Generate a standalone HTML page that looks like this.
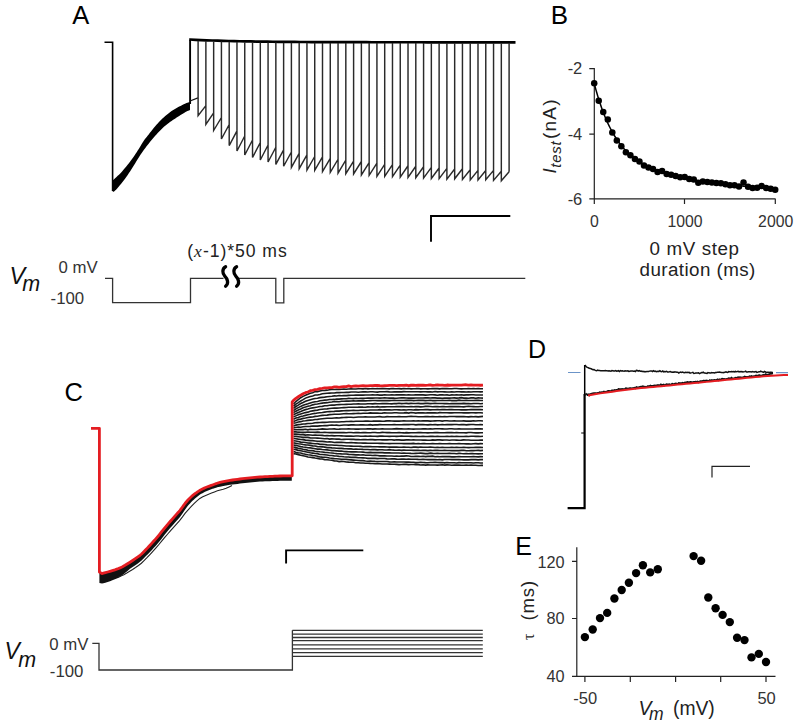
<!DOCTYPE html>
<html><head><meta charset="utf-8"><style>
html,body{margin:0;padding:0;background:#fff;}
svg{display:block;font-family:"Liberation Sans", sans-serif;}
</style></head><body>
<svg width="800" height="726" viewBox="0 0 800 726">
<text x="72.3" y="24" font-size="25.5" fill="#000">A</text>
<path d="M104.5,42.2 H112.6 V191" fill="none" stroke="#000" stroke-width="1.6"/>
<polygon points="112.70,180.50 113.17,180.07 113.81,179.47 114.58,178.77 115.40,178.00 116.23,177.23 117.00,176.50 117.69,175.86 118.34,175.26 119.00,174.66 119.70,173.99 120.49,173.19 121.40,172.20 122.47,170.99 123.67,169.61 124.95,168.10 126.28,166.50 127.61,164.85 128.90,163.20 130.17,161.52 131.46,159.77 132.74,157.97 134.02,156.15 135.28,154.32 136.50,152.50 137.71,150.62 138.92,148.66 140.11,146.69 141.25,144.79 142.32,143.03 143.30,141.50 144.12,140.29 144.80,139.35 145.40,138.56 146.01,137.79 146.72,136.91 147.60,135.80 148.68,134.41 149.89,132.83 151.20,131.14 152.55,129.42 153.90,127.75 155.20,126.20 156.45,124.77 157.70,123.38 158.95,122.04 160.20,120.75 161.45,119.50 162.70,118.30 163.96,117.14 165.23,116.02 166.49,114.95 167.76,113.92 169.03,112.94 170.30,112.00 171.57,111.11 172.83,110.28 174.10,109.49 175.37,108.74 176.63,108.01 177.90,107.30 179.20,106.59 180.55,105.88 181.89,105.20 183.20,104.56 184.41,103.99 185.50,103.50 186.48,103.10 187.40,102.77 188.22,102.51 188.95,102.30 189.55,102.14 190.00,102.00 190.00,110.00 189.55,110.19 188.95,110.41 188.22,110.70 187.40,111.05 186.48,111.48 185.50,112.00 184.41,112.64 183.20,113.39 181.89,114.21 180.55,115.08 179.20,115.96 177.90,116.80 176.63,117.61 175.37,118.41 174.10,119.21 172.83,120.04 171.57,120.89 170.30,121.80 169.03,122.75 167.76,123.72 166.49,124.72 165.23,125.77 163.96,126.86 162.70,128.00 161.45,129.19 160.20,130.43 158.95,131.71 157.70,133.04 156.45,134.40 155.20,135.80 153.94,137.24 152.66,138.73 151.39,140.26 150.11,141.82 148.85,143.40 147.60,145.00 146.37,146.59 145.16,148.19 143.95,149.81 142.74,151.47 141.53,153.19 140.30,155.00 139.05,156.93 137.79,158.97 136.51,161.07 135.24,163.20 133.96,165.29 132.70,167.30 131.45,169.25 130.20,171.18 128.95,173.08 127.70,174.93 126.45,176.74 125.20,178.50 123.89,180.25 122.53,182.01 121.16,183.73 119.84,185.34 118.64,186.78 117.60,188.00 116.74,188.97 116.02,189.74 115.41,190.34 114.88,190.81 114.42,191.19 114.00,191.50 113.64,191.70 113.35,191.76 113.12,191.72 112.95,191.63 112.81,191.54 112.70,191.50" fill="#000"/>
<path d="M190.1,104 V40" fill="none" stroke="#000" stroke-width="1.9"/>
<path d="M189.2,39.5 L190.0,39.50 L195.5,39.79 L201.0,40.05 L206.6,40.29 L212.1,40.50 L217.6,40.69 L223.1,40.86 L228.6,41.01 L234.1,41.14 L239.7,41.26 L245.2,41.37 L250.7,41.47 L256.2,41.56 L261.7,41.63 L267.2,41.70 L272.8,41.76 L278.3,41.82 L283.8,41.87 L289.3,41.92 L294.8,41.96 L300.3,41.99 L305.9,42.02 L311.4,42.05 L316.9,42.08 L322.4,42.10 L327.9,42.12 L333.4,42.14 L339.0,42.16 L344.5,42.17 L350.0,42.19 L355.5,42.20 L361.0,42.21 L366.5,42.22 L372.1,42.23 L377.6,42.23 L383.1,42.24 L388.6,42.25 L394.1,42.25 L399.6,42.26 L405.2,42.26 L410.7,42.27 L416.2,42.27 L421.7,42.27 L427.2,42.28 L432.7,42.28 L438.3,42.28 L443.8,42.28 L449.3,42.28 L454.8,42.29 L460.3,42.29 L465.8,42.29 L471.4,42.29 L476.9,42.29 L482.4,42.29 L487.9,42.29 L493.4,42.29 L498.9,42.29 L504.5,42.29 L510.0,42.30 L515.5,42.30" fill="none" stroke="#000" stroke-width="2.7"/>
<path d="M190,101 L198,97.8" fill="none" stroke="#111" stroke-width="1.3"/>
<path d="M198.10,40.72 V115.60 L205.88,105.60 M205.88,41.06 V124.40 L213.65,112.90 M213.65,41.36 V130.50 L221.43,117.50 M221.43,41.61 V139.00 L229.20,124.50 M229.20,41.82 V145.60 L236.97,130.85 M236.97,42.01 V151.00 L244.75,136.00 M244.75,42.16 V155.00 L252.53,140.00 M252.53,42.30 V157.50 L260.30,142.50 M260.30,42.41 V160.00 L268.07,145.00 M268.07,42.51 V162.00 L275.85,147.25 M275.85,42.60 V164.40 L283.62,149.90 M283.62,42.67 V166.25 L291.40,152.00 M291.40,42.73 V167.37 L299.18,153.37 M299.18,42.78 V168.64 L306.95,154.83 M306.95,42.83 V170.13 L314.73,156.51 M314.73,42.87 V170.28 L322.50,156.84 M322.50,42.90 V171.70 L330.27,158.45 M330.27,42.93 V172.31 L338.05,159.25 M338.05,42.96 V173.05 L345.82,160.17 M345.82,42.98 V173.74 L353.60,161.05 M353.60,42.99 V174.00 L361.38,161.50 M361.38,43.01 V174.88 L369.15,162.58 M369.15,43.02 V175.27 L376.93,163.17 M376.93,43.03 V176.36 L384.70,164.46 M384.70,43.04 V176.37 L392.48,164.67 M392.48,43.05 V176.68 L400.25,165.18 M400.25,43.06 V177.07 L408.02,165.77 M408.02,43.06 V177.36 L415.80,166.26 M415.80,43.07 V177.63 L423.58,166.73 M423.58,43.07 V178.07 L431.35,167.37 M431.35,43.08 V178.54 L439.12,168.04 M439.12,43.08 V178.69 L446.90,168.36 M446.90,43.08 V179.19 L454.67,169.02 M454.67,43.09 V178.81 L462.45,168.81 M462.45,43.09 V179.52 L470.23,169.69 M470.23,43.09 V180.04 L478.00,170.37 M478.00,43.09 V180.08 L485.77,170.58 M485.77,43.09 V179.72 L493.55,170.39 M493.55,43.09 V180.36 L501.33,171.19 M501.33,43.09 V180.69 L509.10,171.69 M509.10,43.10 V171.69" fill="none" stroke="#2a2a2a" stroke-width="1.45" stroke-linejoin="miter"/>
<path d="M431,241.7 V216 H510.3" fill="none" stroke="#000" stroke-width="1.9"/>
<text x="9.6" y="283.8" font-size="23.5" font-style="italic" fill="#111">V</text>
<text x="22.3" y="291.3" font-size="21.5" font-style="italic" fill="#111">m</text>
<text x="58.6" y="273.3" font-size="16.8" fill="#333">0 mV</text>
<text x="50.6" y="304.3" font-size="16.8" fill="#333">-100</text>
<path d="M105,278.3 H112.6 V302.6 H190.5 V278.3 H223.5 M239,278.3 H275.8 V302.8 H283.8 V278.3 H525.3" fill="none" stroke="#333" stroke-width="1.3"/>
<path d="M225.6,266.8 C222.0,268.6 222.2,273.5 224.8,276.2 C227.4,278.8 229.2,283.4 225.6,286.2" fill="none" stroke="#000" stroke-width="3.3" stroke-linecap="round"/>
<path d="M236.6,266.8 C233.0,268.6 233.2,273.5 235.8,276.2 C238.4,278.8 240.2,283.4 236.6,286.2" fill="none" stroke="#000" stroke-width="3.3" stroke-linecap="round"/>
<text x="187.3" y="257.2" font-size="17.6" letter-spacing="0.95" fill="#222">(<tspan font-family="Liberation Serif" font-style="italic">x</tspan>-1)*50 ms</text>
<text x="550.8" y="24" font-size="26" fill="#000">B</text>
<path d="M589.3,68.6 H594.3 M589.3,134.2 H594.3 M589.3,198.8 H594.3 M594.3,68 V198.8 H775.5 M594.3,198.8 V204 M684.5,198.8 V204 M775.3,198.8 V204" fill="none" stroke="#222" stroke-width="1.2"/>
<path d="M594.20,83.30 L595.11,86.76 L596.02,90.08 L596.93,93.28 L597.84,96.35 L598.75,99.30 L599.66,102.13 L600.57,104.86 L601.48,107.47 L602.39,109.99 L603.30,112.42 L604.21,114.75 L605.11,116.99 L606.02,119.14 L606.93,121.22 L607.84,123.21 L608.75,125.14 L609.66,126.99 L610.57,128.77 L611.48,130.48 L612.39,132.14 L613.30,133.73 L614.21,135.26 L615.12,136.74 L616.03,138.16 L616.94,139.54 L617.85,140.86 L618.76,142.14 L619.67,143.37 L620.58,144.56 L621.49,145.71 L622.40,146.81 L623.31,147.88 L624.22,148.91 L625.12,149.91 L626.03,150.87 L626.94,151.80 L627.85,152.70 L628.76,153.57 L629.67,154.42 L630.58,155.23 L631.49,156.02 L632.40,156.78 L633.31,157.52 L634.22,158.23 L635.13,158.92 L636.04,159.59 L636.95,160.24 L637.86,160.87 L638.77,161.48 L639.68,162.07 L640.59,162.65 L641.50,163.21 L642.41,163.75 L643.32,164.27 L644.23,164.78 L645.13,165.28 L646.04,165.76 L646.95,166.23 L647.86,166.68 L648.77,167.13 L649.68,167.56 L650.59,167.98 L651.50,168.39 L652.41,168.78 L653.32,169.17 L654.23,169.55 L655.14,169.92 L656.05,170.28 L656.96,170.63 L657.87,170.97 L658.78,171.30 L659.69,171.63 L660.60,171.94 L661.51,172.25 L662.42,172.56 L663.33,172.85 L664.24,173.14 L665.14,173.43 L666.05,173.70 L666.96,173.98 L667.87,174.24 L668.78,174.50 L669.69,174.75 L670.60,175.00 L671.51,175.25 L672.42,175.49 L673.33,175.72 L674.24,175.95 L675.15,176.18 L676.06,176.40 L676.97,176.62 L677.88,176.83 L678.79,177.04 L679.70,177.24 L680.61,177.44 L681.52,177.64 L682.43,177.84 L683.34,178.03 L684.25,178.22 L685.15,178.40 L686.06,178.58 L686.97,178.76 L687.88,178.94 L688.79,179.11 L689.70,179.28 L690.61,179.45 L691.52,179.62 L692.43,179.78 L693.34,179.94 L694.25,180.10 L695.16,180.25 L696.07,180.41 L696.98,180.56 L697.89,180.71 L698.80,180.85 L699.71,181.00 L700.62,181.14 L701.53,181.28 L702.44,181.42 L703.35,181.56 L704.26,181.69 L705.16,181.82 L706.07,181.96 L706.98,182.09 L707.89,182.21 L708.80,182.34 L709.71,182.47 L710.62,182.59 L711.53,182.71 L712.44,182.83 L713.35,182.95 L714.26,183.07 L715.17,183.18 L716.08,183.30 L716.99,183.41 L717.90,183.53 L718.81,183.64 L719.72,183.75 L720.63,183.85 L721.54,183.96 L722.45,184.07 L723.36,184.17 L724.27,184.27 L725.17,184.38 L726.08,184.48 L726.99,184.58 L727.90,184.68 L728.81,184.77 L729.72,184.87 L730.63,184.97 L731.54,185.06 L732.45,185.16 L733.36,185.25 L734.27,185.34 L735.18,185.43 L736.09,185.52 L737.00,185.61 L737.91,185.70 L738.82,185.78 L739.73,185.87 L740.64,185.96 L741.55,186.04 L742.46,186.12 L743.37,186.21 L744.28,186.29 L745.18,186.37 L746.09,186.45 L747.00,186.53 L747.91,186.61 L748.82,186.69 L749.73,186.76 L750.64,186.84 L751.55,186.91 L752.46,186.99 L753.37,187.06 L754.28,187.14 L755.19,187.21 L756.10,187.28 L757.01,187.35 L757.92,187.42 L758.83,187.49 L759.74,187.56 L760.65,187.63 L761.56,187.70 L762.47,187.77 L763.38,187.83 L764.29,187.90 L765.19,187.96 L766.10,188.03 L767.01,188.09 L767.92,188.16 L768.83,188.22 L769.74,188.28 L770.65,188.34 L771.56,188.40 L772.47,188.46 L773.38,188.52 L774.29,188.58 L775.20,188.64" fill="none" stroke="#000" stroke-width="1.5"/>
<g fill="#000"><circle cx="594.20" cy="83.30" r="3.25"/><circle cx="598.73" cy="100.80" r="3.25"/><circle cx="603.25" cy="112.10" r="3.25"/><circle cx="607.78" cy="119.40" r="3.25"/><circle cx="612.30" cy="132.60" r="3.25"/><circle cx="616.83" cy="140.50" r="3.25"/><circle cx="621.35" cy="146.20" r="3.25"/><circle cx="625.88" cy="152.30" r="3.25"/><circle cx="630.40" cy="155.30" r="3.25"/><circle cx="634.93" cy="159.10" r="3.25"/><circle cx="639.45" cy="161.40" r="3.25"/><circle cx="643.98" cy="165.50" r="3.25"/><circle cx="648.50" cy="167.40" r="3.25"/><circle cx="653.03" cy="168.90" r="3.25"/><circle cx="657.55" cy="172.07" r="3.25"/><circle cx="662.08" cy="170.91" r="3.25"/><circle cx="666.60" cy="174.12" r="3.25"/><circle cx="671.12" cy="174.80" r="3.25"/><circle cx="675.65" cy="176.03" r="3.25"/><circle cx="680.18" cy="177.22" r="3.25"/><circle cx="684.70" cy="177.10" r="3.25"/><circle cx="689.23" cy="179.05" r="3.25"/><circle cx="693.75" cy="179.49" r="3.25"/><circle cx="698.28" cy="182.76" r="3.25"/><circle cx="702.80" cy="181.61" r="3.25"/><circle cx="707.33" cy="181.92" r="3.25"/><circle cx="711.85" cy="182.59" r="3.25"/><circle cx="716.38" cy="182.94" r="3.25"/><circle cx="720.90" cy="183.25" r="3.25"/><circle cx="725.43" cy="184.17" r="3.25"/><circle cx="729.95" cy="185.18" r="3.25"/><circle cx="734.48" cy="185.22" r="3.25"/><circle cx="739.00" cy="186.38" r="3.25"/><circle cx="743.53" cy="182.42" r="3.25"/><circle cx="748.05" cy="186.63" r="3.25"/><circle cx="752.58" cy="187.93" r="3.25"/><circle cx="757.10" cy="187.69" r="3.25"/><circle cx="761.62" cy="185.90" r="3.25"/><circle cx="766.15" cy="187.92" r="3.25"/><circle cx="770.68" cy="188.67" r="3.25"/><circle cx="775.20" cy="189.80" r="3.25"/></g>
<g font-size="16.5" fill="#333" text-anchor="end"><text x="582.3" y="74">-2</text><text x="582.3" y="139.8">-4</text><text x="582.3" y="204.9">-6</text></g>
<g font-size="15.8" fill="#333" text-anchor="middle"><text x="594.3" y="226.6">0</text><text x="685" y="226.6">1000</text><text x="775.7" y="226.6">2000</text></g>
<g font-size="18.8" fill="#222" letter-spacing="0.6"><text x="649.6" y="254.5">0 mV step</text><text x="639.6" y="276.3" letter-spacing="0.42">duration (ms)</text></g>
<text transform="translate(555.6,175.3) rotate(-90)" font-size="19" fill="#222"><tspan x="1.9" font-style="italic">I</tspan><tspan x="7.6" font-style="italic" font-size="15" letter-spacing="0.7" dy="5">test</tspan><tspan x="36.3" dy="-5" letter-spacing="1.2">(nA)</tspan></text>
<text x="64.6" y="400.6" font-size="25.5" fill="#000">C</text>
<polygon points="99.40,572.00 102.00,573.60 103.39,573.21 105.38,572.66 107.67,572.01 110.00,571.30 112.36,570.58 114.88,569.81 117.45,568.94 120.00,567.90 122.50,566.66 125.00,565.27 127.50,563.76 130.00,562.20 132.62,560.51 135.31,558.69 137.85,556.91 140.00,555.30 141.60,553.96 142.81,552.79 143.87,551.68 145.00,550.50 146.19,549.31 147.34,548.13 148.57,546.84 150.00,545.30 151.70,543.42 153.59,541.30 155.57,539.05 157.50,536.80 159.38,534.54 161.25,532.22 163.12,529.89 165.00,527.60 166.88,525.36 168.75,523.16 170.62,520.97 172.50,518.80 174.43,516.61 176.41,514.42 178.30,512.30 180.00,510.30 181.43,508.45 182.66,506.72 183.81,505.08 185.00,503.50 186.25,501.98 187.50,500.54 188.75,499.17 190.00,497.90 191.25,496.73 192.50,495.66 193.75,494.66 195.00,493.70 196.25,492.77 197.50,491.89 198.75,491.07 200.00,490.30 201.25,489.60 202.50,488.96 203.75,488.36 205.00,487.80 206.25,487.28 207.50,486.81 208.75,486.36 210.00,485.90 211.25,485.42 212.50,484.93 213.75,484.45 215.00,484.00 216.13,483.59 217.19,483.21 218.40,482.82 220.00,482.40 222.15,481.91 224.69,481.39 227.38,480.87 230.00,480.40 232.50,480.00 235.00,479.64 237.50,479.31 240.00,479.00 242.50,478.70 245.00,478.42 247.50,478.15 250.00,477.90 252.50,477.65 255.00,477.42 257.50,477.20 260.00,477.00 262.50,476.82 265.00,476.67 267.50,476.53 270.00,476.40 272.46,476.28 274.89,476.17 277.37,476.08 280.00,476.00 283.10,475.93 286.52,475.88 289.64,475.83 291.80,475.80 291.80,480.80 289.64,480.80 286.52,480.81 283.10,480.82 280.00,480.85 277.37,480.90 274.89,480.96 272.46,481.04 270.00,481.13 267.50,481.22 265.00,481.33 262.50,481.46 260.00,481.60 257.50,481.80 255.00,482.02 252.50,482.25 250.00,482.50 247.50,482.75 245.00,483.02 242.50,483.30 240.00,483.60 237.50,483.88 235.00,484.17 232.50,484.49 230.00,484.85 227.38,485.28 224.69,485.76 222.15,486.25 220.00,486.70 218.40,487.04 217.19,487.37 216.13,487.69 215.00,488.05 213.75,488.44 212.50,488.86 211.25,489.28 210.00,489.70 208.75,490.22 207.50,490.74 206.25,491.27 205.00,491.85 203.75,492.47 202.50,493.13 201.25,493.84 200.00,494.60 198.75,495.52 197.50,496.49 196.25,497.52 195.00,498.60 193.75,499.71 192.50,500.86 191.25,502.08 190.00,503.40 188.75,504.84 187.50,506.36 186.25,507.97 185.00,509.65 183.81,511.38 182.66,513.17 181.43,515.07 180.00,517.10 178.30,519.05 176.41,521.12 174.43,523.25 172.50,525.38 170.62,527.49 168.75,529.72 166.88,532.02 165.00,534.35 163.12,536.73 161.25,539.16 159.38,541.52 157.50,543.72 155.57,545.90 153.59,548.09 151.70,550.15 150.00,551.97 148.57,553.46 147.34,554.71 146.19,555.85 145.00,557.00 143.87,558.18 142.81,559.29 141.60,560.46 140.00,561.80 137.85,563.41 135.31,565.19 132.62,567.01 130.00,568.70 127.50,570.89 125.00,573.02 122.50,575.04 120.00,576.90 117.45,578.19 114.88,579.33 112.36,580.35 110.00,581.30 107.67,582.01 105.38,582.66 103.39,583.21 102.00,583.60 99.40,583.00" fill="#111"/>
<path d="M118.00,577.21 L120.92,576.07 L123.85,574.66 L126.77,573.04 L129.69,571.28 L132.62,569.45 L135.54,567.53 L138.46,565.50 L141.38,563.25 L144.31,560.38 L147.23,557.46 L150.15,554.39 L153.08,551.20 L156.00,547.92 L158.92,544.51 L161.85,540.96 L164.77,537.42 L167.69,533.99 L170.62,530.62 L173.54,527.32 L176.46,524.11 L179.38,520.83 L182.31,517.07 L185.23,513.13 L188.15,509.79 L191.08,506.68 L194.00,503.67 L196.92,500.91 L199.85,498.43 L202.77,496.77 L205.69,495.40 L208.62,494.24 L211.54,493.07 L214.46,491.91 L217.38,490.80 L220.31,489.92 L223.23,489.22 L226.15,488.27 L229.08,486.90 L232.00,485.58" fill="none" stroke="#222" stroke-width="1.1"/>
<path d="M293.50,403.97 L295.90,401.56 L298.30,399.68 L300.70,397.74 L303.09,396.37 L305.49,395.30 L307.89,394.24 L310.29,393.32 L312.69,392.67 L315.09,391.63 L317.49,391.58 L319.89,390.91 L322.28,390.46 L324.68,390.38 L327.08,390.17 L329.48,389.82 L331.88,389.56 L334.28,389.53 L336.68,389.39 L339.08,389.46 L341.47,389.29 L343.87,389.14 L346.27,389.19 L348.67,388.97 L351.07,388.84 L353.47,388.98 L355.87,388.95 L358.27,388.82 L360.66,388.73 L363.06,388.83 L365.46,388.49 L367.86,388.86 L370.26,388.82 L372.66,388.56 L375.06,388.75 L377.46,388.62 L379.85,388.82 L382.25,388.48 L384.65,388.61 L387.05,388.80 L389.45,388.85 L391.85,388.45 L394.25,388.65 L396.65,388.75 L399.04,388.64 L401.44,388.90 L403.84,388.56 L406.24,388.75 L408.64,388.58 L411.04,388.87 L413.44,388.70 L415.84,388.66 L418.23,388.50 L420.63,388.90 L423.03,388.79 L425.43,388.79 L427.83,388.84 L430.23,388.74 L432.63,388.62 L435.03,388.60 L437.42,388.60 L439.82,388.86 L442.22,388.53 L444.62,388.63 L447.02,388.66 L449.42,388.73 L451.82,388.77 L454.22,388.55 L456.61,388.49 L459.01,388.70 L461.41,388.85 L463.81,388.79 L466.21,388.73 L468.61,388.66 L471.01,388.74 L473.41,388.67 L475.80,388.80 L478.20,388.60 L480.60,388.72 L483.00,388.69 M293.50,406.22 L295.90,404.10 L298.30,402.60 L300.70,400.95 L303.09,399.65 L305.49,398.11 L307.89,397.36 L310.29,396.52 L312.69,395.96 L315.09,395.03 L317.49,394.93 L319.89,394.49 L322.28,393.83 L324.68,393.55 L327.08,393.30 L329.48,393.17 L331.88,393.05 L334.28,393.05 L336.68,392.63 L339.08,392.62 L341.47,392.44 L343.87,392.55 L346.27,392.35 L348.67,392.35 L351.07,392.00 L353.47,392.06 L355.87,391.95 L358.27,392.19 L360.66,392.06 L363.06,391.92 L365.46,391.88 L367.86,391.97 L370.26,391.81 L372.66,391.77 L375.06,391.93 L377.46,392.16 L379.85,391.82 L382.25,391.78 L384.65,391.70 L387.05,391.67 L389.45,391.89 L391.85,391.93 L394.25,391.82 L396.65,391.86 L399.04,391.83 L401.44,391.83 L403.84,391.63 L406.24,391.75 L408.64,391.82 L411.04,391.71 L413.44,391.75 L415.84,391.71 L418.23,391.76 L420.63,391.91 L423.03,391.75 L425.43,391.78 L427.83,391.90 L430.23,391.88 L432.63,392.01 L435.03,391.55 L437.42,391.90 L439.82,391.74 L442.22,391.82 L444.62,391.90 L447.02,391.93 L449.42,391.93 L451.82,391.82 L454.22,391.99 L456.61,391.77 L459.01,391.78 L461.41,391.90 L463.81,391.73 L466.21,392.06 L468.61,391.92 L471.01,392.06 L473.41,391.80 L475.80,391.75 L478.20,391.82 L480.60,391.89 L483.00,391.73 M293.50,408.35 L295.90,406.50 L298.30,405.14 L300.70,403.51 L303.09,402.55 L305.49,401.33 L307.89,400.42 L310.29,399.69 L312.69,398.98 L315.09,398.57 L317.49,398.19 L319.89,397.66 L322.28,397.34 L324.68,397.15 L327.08,396.71 L329.48,396.46 L331.88,396.20 L334.28,395.86 L336.68,395.99 L339.08,395.55 L341.47,395.72 L343.87,395.54 L346.27,395.59 L348.67,395.38 L351.07,395.22 L353.47,395.31 L355.87,395.15 L358.27,395.15 L360.66,395.14 L363.06,395.09 L365.46,395.05 L367.86,394.95 L370.26,395.01 L372.66,394.76 L375.06,394.98 L377.46,394.84 L379.85,395.11 L382.25,395.12 L384.65,394.72 L387.05,394.97 L389.45,394.93 L391.85,394.81 L394.25,394.99 L396.65,394.87 L399.04,394.71 L401.44,394.89 L403.84,394.90 L406.24,394.93 L408.64,394.77 L411.04,394.99 L413.44,395.00 L415.84,394.77 L418.23,394.83 L420.63,394.90 L423.03,394.84 L425.43,395.11 L427.83,394.93 L430.23,394.78 L432.63,394.81 L435.03,394.90 L437.42,395.18 L439.82,394.88 L442.22,394.92 L444.62,394.96 L447.02,394.90 L449.42,395.17 L451.82,394.84 L454.22,394.99 L456.61,394.92 L459.01,394.98 L461.41,394.76 L463.81,395.11 L466.21,394.89 L468.61,394.90 L471.01,394.79 L473.41,394.81 L475.80,394.97 L478.20,395.02 L480.60,394.99 L483.00,395.05 M293.50,410.54 L295.90,408.90 L298.30,407.63 L300.70,406.41 L303.09,405.28 L305.49,404.46 L307.89,403.73 L310.29,402.91 L312.69,402.22 L315.09,401.82 L317.49,401.49 L319.89,400.83 L322.28,400.49 L324.68,400.17 L327.08,400.06 L329.48,399.45 L331.88,399.51 L334.28,399.42 L336.68,399.02 L339.08,399.16 L341.47,398.92 L343.87,398.68 L346.27,398.68 L348.67,398.39 L351.07,398.43 L353.47,398.66 L355.87,398.28 L358.27,398.56 L360.66,398.28 L363.06,398.38 L365.46,398.23 L367.86,397.93 L370.26,398.10 L372.66,398.17 L375.06,397.99 L377.46,397.95 L379.85,398.14 L382.25,398.01 L384.65,397.87 L387.05,397.99 L389.45,398.16 L391.85,397.99 L394.25,398.16 L396.65,398.22 L399.04,398.04 L401.44,397.89 L403.84,397.87 L406.24,398.02 L408.64,398.13 L411.04,398.05 L413.44,398.08 L415.84,397.96 L418.23,398.05 L420.63,397.95 L423.03,397.97 L425.43,397.85 L427.83,397.82 L430.23,397.95 L432.63,397.87 L435.03,397.89 L437.42,398.08 L439.82,397.99 L442.22,398.35 L444.62,398.11 L447.02,397.93 L449.42,398.10 L451.82,398.04 L454.22,397.92 L456.61,398.13 L459.01,397.91 L461.41,397.63 L463.81,398.10 L466.21,397.93 L468.61,398.18 L471.01,397.92 L473.41,397.86 L475.80,398.19 L478.20,397.87 L480.60,398.02 L483.00,398.17 M293.50,412.62 L295.90,411.17 L298.30,409.92 L300.70,408.90 L303.09,407.71 L305.49,407.01 L307.89,406.24 L310.29,405.78 L312.69,404.86 L315.09,404.26 L317.49,403.99 L319.89,403.45 L322.28,403.16 L324.68,402.83 L327.08,402.67 L329.48,402.20 L331.88,402.05 L334.28,401.56 L336.68,401.58 L339.08,401.72 L341.47,401.32 L343.87,401.20 L346.27,401.04 L348.67,401.16 L351.07,401.03 L353.47,400.80 L355.87,400.96 L358.27,400.85 L360.66,400.86 L363.06,400.65 L365.46,400.90 L367.86,400.70 L370.26,400.61 L372.66,400.54 L375.06,400.55 L377.46,400.66 L379.85,400.50 L382.25,400.65 L384.65,400.58 L387.05,400.66 L389.45,400.58 L391.85,400.47 L394.25,400.24 L396.65,400.49 L399.04,400.54 L401.44,400.46 L403.84,400.51 L406.24,400.38 L408.64,400.38 L411.04,400.31 L413.44,400.59 L415.84,400.44 L418.23,400.36 L420.63,400.26 L423.03,400.40 L425.43,400.59 L427.83,400.47 L430.23,400.32 L432.63,400.58 L435.03,400.58 L437.42,400.52 L439.82,400.50 L442.22,400.54 L444.62,400.47 L447.02,400.50 L449.42,400.31 L451.82,400.58 L454.22,400.43 L456.61,400.65 L459.01,400.16 L461.41,400.49 L463.81,400.52 L466.21,400.36 L468.61,400.46 L471.01,400.49 L473.41,400.47 L475.80,400.34 L478.20,400.38 L480.60,400.52 L483.00,400.55 M293.50,414.77 L295.90,413.53 L298.30,412.44 L300.70,411.55 L303.09,410.43 L305.49,409.62 L307.89,409.10 L310.29,408.34 L312.69,407.85 L315.09,407.44 L317.49,407.06 L319.89,406.48 L322.28,406.37 L324.68,405.75 L327.08,405.76 L329.48,405.26 L331.88,405.08 L334.28,405.12 L336.68,404.82 L339.08,404.63 L341.47,404.53 L343.87,404.52 L346.27,404.35 L348.67,404.26 L351.07,404.31 L353.47,404.02 L355.87,403.98 L358.27,403.92 L360.66,404.07 L363.06,404.00 L365.46,403.99 L367.86,403.80 L370.26,403.75 L372.66,403.84 L375.06,403.66 L377.46,403.79 L379.85,403.75 L382.25,403.57 L384.65,403.62 L387.05,403.60 L389.45,403.81 L391.85,403.90 L394.25,403.57 L396.65,403.58 L399.04,403.29 L401.44,403.58 L403.84,403.55 L406.24,403.42 L408.64,403.64 L411.04,403.35 L413.44,403.51 L415.84,403.55 L418.23,403.38 L420.63,403.63 L423.03,403.65 L425.43,403.35 L427.83,403.35 L430.23,403.59 L432.63,403.51 L435.03,403.37 L437.42,403.47 L439.82,403.50 L442.22,403.49 L444.62,403.61 L447.02,403.55 L449.42,403.72 L451.82,403.67 L454.22,403.59 L456.61,403.63 L459.01,403.66 L461.41,403.59 L463.81,403.36 L466.21,403.61 L468.61,403.51 L471.01,403.70 L473.41,403.51 L475.80,403.56 L478.20,403.54 L480.60,403.70 L483.00,403.52 M293.50,416.88 L295.90,415.88 L298.30,414.83 L300.70,414.04 L303.09,413.24 L305.49,412.59 L307.89,412.16 L310.29,411.33 L312.69,410.89 L315.09,410.41 L317.49,410.12 L319.89,409.54 L322.28,409.28 L324.68,409.07 L327.08,408.88 L329.48,408.58 L331.88,408.32 L334.28,408.09 L336.68,408.09 L339.08,408.05 L341.47,407.78 L343.87,407.65 L346.27,407.57 L348.67,407.31 L351.07,407.30 L353.47,407.23 L355.87,407.23 L358.27,407.13 L360.66,406.93 L363.06,407.16 L365.46,407.18 L367.86,406.91 L370.26,406.95 L372.66,406.91 L375.06,406.94 L377.46,406.64 L379.85,406.99 L382.25,406.72 L384.65,406.91 L387.05,406.75 L389.45,406.68 L391.85,406.70 L394.25,406.81 L396.65,406.59 L399.04,406.64 L401.44,406.62 L403.84,406.46 L406.24,406.81 L408.64,406.72 L411.04,406.64 L413.44,406.78 L415.84,406.52 L418.23,406.63 L420.63,406.84 L423.03,406.74 L425.43,406.36 L427.83,406.22 L430.23,406.50 L432.63,406.74 L435.03,406.56 L437.42,406.59 L439.82,406.69 L442.22,406.51 L444.62,406.64 L447.02,406.70 L449.42,406.66 L451.82,406.65 L454.22,406.53 L456.61,406.67 L459.01,406.55 L461.41,406.76 L463.81,406.91 L466.21,406.51 L468.61,406.34 L471.01,406.55 L473.41,406.65 L475.80,406.73 L478.20,406.73 L480.60,406.51 L483.00,406.51 M293.50,419.22 L295.90,418.01 L298.30,417.44 L300.70,416.53 L303.09,415.98 L305.49,415.36 L307.89,414.82 L310.29,414.33 L312.69,413.67 L315.09,413.42 L317.49,413.02 L319.89,412.73 L322.28,412.55 L324.68,412.10 L327.08,411.81 L329.48,411.59 L331.88,411.44 L334.28,411.40 L336.68,411.05 L339.08,411.14 L341.47,410.91 L343.87,410.73 L346.27,410.50 L348.67,410.59 L351.07,410.56 L353.47,410.19 L355.87,410.47 L358.27,410.47 L360.66,410.25 L363.06,410.22 L365.46,410.41 L367.86,410.22 L370.26,409.93 L372.66,410.00 L375.06,409.96 L377.46,409.93 L379.85,409.64 L382.25,409.99 L384.65,409.81 L387.05,409.88 L389.45,409.83 L391.85,409.94 L394.25,409.78 L396.65,409.71 L399.04,409.86 L401.44,409.96 L403.84,409.74 L406.24,409.94 L408.64,409.80 L411.04,409.69 L413.44,409.94 L415.84,409.65 L418.23,409.86 L420.63,409.68 L423.03,409.79 L425.43,409.58 L427.83,409.63 L430.23,409.85 L432.63,409.75 L435.03,409.73 L437.42,409.67 L439.82,409.77 L442.22,409.55 L444.62,409.58 L447.02,409.69 L449.42,409.61 L451.82,409.63 L454.22,409.70 L456.61,409.69 L459.01,409.68 L461.41,409.91 L463.81,409.83 L466.21,409.85 L468.61,409.70 L471.01,409.64 L473.41,409.53 L475.80,409.66 L478.20,409.45 L480.60,409.63 L483.00,409.79 M293.50,421.41 L295.90,420.55 L298.30,419.61 L300.70,419.13 L303.09,418.39 L305.49,418.05 L307.89,417.46 L310.29,417.14 L312.69,416.95 L315.09,416.39 L317.49,416.23 L319.89,415.68 L322.28,415.35 L324.68,415.31 L327.08,415.14 L329.48,414.66 L331.88,414.56 L334.28,414.21 L336.68,414.21 L339.08,414.21 L341.47,413.97 L343.87,413.80 L346.27,413.60 L348.67,413.72 L351.07,413.69 L353.47,413.59 L355.87,413.49 L358.27,413.24 L360.66,413.55 L363.06,413.28 L365.46,413.23 L367.86,413.29 L370.26,412.90 L372.66,413.12 L375.06,413.08 L377.46,413.12 L379.85,413.21 L382.25,413.08 L384.65,412.78 L387.05,412.94 L389.45,412.99 L391.85,412.97 L394.25,412.78 L396.65,412.72 L399.04,412.98 L401.44,412.94 L403.84,412.89 L406.24,412.68 L408.64,413.09 L411.04,412.52 L413.44,412.82 L415.84,413.11 L418.23,412.83 L420.63,412.87 L423.03,412.70 L425.43,413.00 L427.83,412.68 L430.23,412.86 L432.63,412.84 L435.03,412.70 L437.42,412.93 L439.82,412.65 L442.22,412.74 L444.62,412.81 L447.02,412.77 L449.42,412.87 L451.82,412.92 L454.22,412.78 L456.61,412.75 L459.01,412.75 L461.41,412.76 L463.81,412.91 L466.21,412.78 L468.61,412.86 L471.01,412.79 L473.41,412.70 L475.80,412.91 L478.20,412.68 L480.60,412.80 L483.00,412.98 M293.50,423.24 L295.90,422.76 L298.30,422.03 L300.70,421.66 L303.09,421.08 L305.49,420.80 L307.89,420.41 L310.29,420.14 L312.69,420.00 L315.09,419.56 L317.49,419.34 L319.89,419.02 L322.28,418.78 L324.68,418.52 L327.08,418.22 L329.48,418.28 L331.88,418.32 L334.28,418.05 L336.68,417.80 L339.08,417.95 L341.47,417.60 L343.87,417.48 L346.27,417.33 L348.67,417.28 L351.07,417.29 L353.47,417.50 L355.87,417.18 L358.27,417.02 L360.66,417.03 L363.06,417.03 L365.46,416.81 L367.86,416.99 L370.26,417.03 L372.66,416.95 L375.06,416.96 L377.46,416.70 L379.85,416.63 L382.25,416.97 L384.65,416.93 L387.05,416.59 L389.45,416.79 L391.85,416.75 L394.25,416.80 L396.65,416.75 L399.04,416.65 L401.44,416.73 L403.84,416.71 L406.24,416.68 L408.64,416.45 L411.04,416.31 L413.44,416.57 L415.84,416.46 L418.23,416.68 L420.63,416.73 L423.03,416.68 L425.43,416.60 L427.83,416.65 L430.23,416.77 L432.63,416.54 L435.03,416.74 L437.42,416.71 L439.82,416.65 L442.22,416.80 L444.62,416.53 L447.02,416.73 L449.42,416.50 L451.82,416.52 L454.22,416.49 L456.61,416.67 L459.01,416.50 L461.41,416.62 L463.81,416.47 L466.21,416.74 L468.61,416.83 L471.01,416.63 L473.41,416.80 L475.80,416.67 L478.20,416.87 L480.60,416.62 L483.00,416.42 M293.50,425.70 L295.90,425.11 L298.30,424.65 L300.70,424.36 L303.09,423.95 L305.49,423.85 L307.89,423.49 L310.29,423.56 L312.69,423.25 L315.09,422.78 L317.49,422.62 L319.89,422.57 L322.28,422.26 L324.68,422.35 L327.08,422.23 L329.48,422.03 L331.88,421.95 L334.28,421.98 L336.68,422.01 L339.08,421.94 L341.47,421.69 L343.87,421.72 L346.27,421.47 L348.67,421.55 L351.07,421.33 L353.47,421.49 L355.87,421.21 L358.27,421.21 L360.66,421.28 L363.06,421.32 L365.46,421.05 L367.86,421.13 L370.26,421.19 L372.66,421.17 L375.06,421.03 L377.46,421.12 L379.85,421.06 L382.25,421.24 L384.65,421.13 L387.05,420.89 L389.45,420.77 L391.85,421.03 L394.25,421.15 L396.65,421.02 L399.04,421.10 L401.44,420.93 L403.84,420.81 L406.24,421.06 L408.64,420.98 L411.04,421.04 L413.44,420.79 L415.84,420.97 L418.23,420.87 L420.63,421.04 L423.03,420.87 L425.43,420.86 L427.83,420.86 L430.23,421.08 L432.63,420.93 L435.03,420.83 L437.42,420.80 L439.82,420.80 L442.22,421.09 L444.62,420.70 L447.02,420.81 L449.42,420.99 L451.82,421.05 L454.22,420.89 L456.61,421.01 L459.01,421.00 L461.41,421.03 L463.81,420.91 L466.21,421.11 L468.61,420.93 L471.01,421.09 L473.41,420.78 L475.80,421.02 L478.20,420.76 L480.60,420.73 L483.00,420.97 M293.50,427.58 L295.90,427.48 L298.30,427.07 L300.70,427.18 L303.09,426.80 L305.49,426.48 L307.89,426.48 L310.29,426.41 L312.69,426.07 L315.09,426.10 L317.49,426.17 L319.89,425.92 L322.28,425.72 L324.68,425.56 L327.08,425.62 L329.48,425.29 L331.88,425.04 L334.28,425.26 L336.68,425.15 L339.08,425.43 L341.47,425.19 L343.87,425.01 L346.27,424.95 L348.67,425.11 L351.07,424.91 L353.47,424.91 L355.87,424.94 L358.27,424.93 L360.66,424.91 L363.06,424.89 L365.46,425.01 L367.86,425.04 L370.26,424.61 L372.66,425.11 L375.06,424.80 L377.46,424.92 L379.85,424.67 L382.25,424.78 L384.65,424.76 L387.05,424.74 L389.45,424.82 L391.85,424.78 L394.25,424.58 L396.65,424.68 L399.04,424.77 L401.44,424.76 L403.84,424.63 L406.24,424.63 L408.64,424.64 L411.04,424.53 L413.44,424.50 L415.84,424.84 L418.23,424.60 L420.63,424.66 L423.03,424.55 L425.43,424.79 L427.83,424.85 L430.23,424.61 L432.63,424.69 L435.03,424.54 L437.42,424.84 L439.82,424.74 L442.22,424.52 L444.62,424.77 L447.02,424.67 L449.42,424.67 L451.82,424.66 L454.22,424.54 L456.61,424.55 L459.01,424.69 L461.41,424.61 L463.81,424.50 L466.21,424.86 L468.61,424.59 L471.01,424.55 L473.41,424.53 L475.80,424.70 L478.20,424.73 L480.60,424.64 L483.00,424.72 M293.50,429.65 L295.90,429.72 L298.30,429.64 L300.70,429.64 L303.09,429.64 L305.49,429.28 L307.89,429.85 L310.29,429.33 L312.69,429.43 L315.09,429.45 L317.49,429.42 L319.89,429.32 L322.28,428.91 L324.68,429.10 L327.08,429.30 L329.48,429.07 L331.88,429.03 L334.28,428.86 L336.68,429.27 L339.08,429.17 L341.47,428.98 L343.87,429.06 L346.27,429.05 L348.67,428.91 L351.07,429.00 L353.47,429.06 L355.87,429.08 L358.27,429.16 L360.66,429.00 L363.06,428.94 L365.46,429.03 L367.86,428.90 L370.26,428.82 L372.66,429.10 L375.06,428.92 L377.46,428.97 L379.85,429.03 L382.25,428.82 L384.65,429.02 L387.05,429.00 L389.45,428.93 L391.85,428.98 L394.25,428.84 L396.65,428.67 L399.04,428.89 L401.44,428.82 L403.84,429.03 L406.24,428.95 L408.64,428.86 L411.04,428.93 L413.44,429.08 L415.84,429.05 L418.23,428.96 L420.63,428.97 L423.03,428.88 L425.43,428.90 L427.83,428.98 L430.23,428.90 L432.63,428.95 L435.03,428.78 L437.42,428.71 L439.82,428.70 L442.22,428.86 L444.62,429.07 L447.02,429.05 L449.42,428.79 L451.82,428.72 L454.22,429.00 L456.61,428.96 L459.01,428.74 L461.41,429.03 L463.81,428.93 L466.21,429.06 L468.61,428.95 L471.01,429.01 L473.41,428.94 L475.80,428.79 L478.20,428.88 L480.60,428.82 L483.00,429.00 M293.50,431.86 L295.90,431.85 L298.30,432.17 L300.70,432.27 L303.09,432.35 L305.49,432.34 L307.89,432.07 L310.29,432.20 L312.69,432.25 L315.09,432.34 L317.49,432.11 L319.89,432.39 L322.28,432.45 L324.68,432.32 L327.08,432.47 L329.48,432.62 L331.88,432.50 L334.28,432.63 L336.68,432.64 L339.08,432.59 L341.47,432.59 L343.87,432.51 L346.27,432.72 L348.67,432.52 L351.07,432.51 L353.47,432.68 L355.87,432.52 L358.27,432.66 L360.66,432.75 L363.06,432.63 L365.46,432.64 L367.86,432.75 L370.26,432.73 L372.66,432.46 L375.06,432.49 L377.46,432.81 L379.85,432.70 L382.25,432.41 L384.65,432.50 L387.05,432.67 L389.45,432.55 L391.85,432.73 L394.25,432.68 L396.65,432.74 L399.04,432.54 L401.44,432.75 L403.84,432.92 L406.24,432.59 L408.64,432.84 L411.04,432.80 L413.44,432.76 L415.84,432.68 L418.23,432.55 L420.63,432.59 L423.03,432.78 L425.43,432.81 L427.83,432.84 L430.23,432.81 L432.63,432.80 L435.03,432.64 L437.42,432.55 L439.82,432.72 L442.22,432.76 L444.62,432.71 L447.02,432.52 L449.42,432.64 L451.82,432.52 L454.22,432.72 L456.61,432.57 L459.01,432.68 L461.41,432.74 L463.81,432.72 L466.21,432.86 L468.61,432.57 L471.01,432.44 L473.41,432.81 L475.80,432.87 L478.20,432.87 L480.60,432.74 L483.00,432.77 M293.50,434.15 L295.90,434.14 L298.30,434.38 L300.70,434.65 L303.09,434.65 L305.49,435.07 L307.89,434.77 L310.29,435.00 L312.69,435.28 L315.09,435.17 L317.49,435.19 L319.89,435.24 L322.28,435.39 L324.68,435.72 L327.08,435.65 L329.48,435.72 L331.88,435.65 L334.28,435.86 L336.68,435.82 L339.08,435.74 L341.47,435.84 L343.87,435.95 L346.27,436.10 L348.67,435.99 L351.07,436.08 L353.47,436.29 L355.87,435.98 L358.27,435.95 L360.66,436.24 L363.06,436.19 L365.46,436.15 L367.86,436.21 L370.26,436.15 L372.66,436.27 L375.06,436.18 L377.46,436.33 L379.85,436.11 L382.25,436.16 L384.65,436.28 L387.05,436.22 L389.45,436.37 L391.85,436.29 L394.25,436.24 L396.65,436.34 L399.04,436.25 L401.44,436.14 L403.84,436.19 L406.24,436.24 L408.64,436.28 L411.04,436.36 L413.44,436.46 L415.84,436.42 L418.23,436.57 L420.63,436.51 L423.03,436.34 L425.43,436.57 L427.83,436.51 L430.23,436.32 L432.63,436.41 L435.03,436.51 L437.42,436.41 L439.82,436.50 L442.22,436.43 L444.62,436.47 L447.02,436.35 L449.42,436.43 L451.82,436.35 L454.22,436.47 L456.61,436.19 L459.01,436.43 L461.41,436.54 L463.81,436.46 L466.21,436.39 L468.61,436.46 L471.01,436.29 L473.41,436.30 L475.80,436.35 L478.20,436.38 L480.60,436.51 L483.00,436.29 M293.50,436.41 L295.90,436.36 L298.30,436.70 L300.70,437.02 L303.09,437.38 L305.49,437.36 L307.89,437.36 L310.29,437.84 L312.69,437.95 L315.09,437.97 L317.49,438.11 L319.89,438.28 L322.28,438.50 L324.68,438.68 L327.08,438.52 L329.48,439.07 L331.88,438.88 L334.28,438.93 L336.68,439.13 L339.08,439.14 L341.47,439.47 L343.87,439.39 L346.27,439.27 L348.67,439.32 L351.07,439.36 L353.47,439.42 L355.87,439.59 L358.27,439.47 L360.66,439.78 L363.06,439.61 L365.46,439.64 L367.86,439.80 L370.26,439.48 L372.66,439.63 L375.06,439.84 L377.46,439.79 L379.85,439.81 L382.25,439.88 L384.65,439.78 L387.05,439.85 L389.45,439.72 L391.85,439.68 L394.25,440.07 L396.65,439.82 L399.04,439.85 L401.44,440.12 L403.84,440.09 L406.24,439.91 L408.64,439.92 L411.04,439.98 L413.44,439.88 L415.84,440.07 L418.23,440.03 L420.63,440.03 L423.03,440.11 L425.43,440.12 L427.83,440.26 L430.23,440.22 L432.63,439.84 L435.03,440.16 L437.42,439.92 L439.82,439.88 L442.22,440.14 L444.62,439.98 L447.02,440.03 L449.42,440.20 L451.82,439.99 L454.22,439.97 L456.61,440.11 L459.01,440.22 L461.41,440.14 L463.81,439.89 L466.21,440.00 L468.61,440.07 L471.01,440.32 L473.41,440.19 L475.80,440.19 L478.20,440.23 L480.60,440.05 L483.00,440.15 M293.50,438.50 L295.90,438.68 L298.30,439.13 L300.70,439.51 L303.09,439.60 L305.49,440.10 L307.89,440.34 L310.29,440.61 L312.69,440.62 L315.09,440.93 L317.49,441.28 L319.89,441.38 L322.28,441.36 L324.68,441.64 L327.08,441.93 L329.48,441.88 L331.88,442.07 L334.28,442.45 L336.68,442.24 L339.08,442.34 L341.47,442.33 L343.87,442.46 L346.27,442.80 L348.67,442.68 L351.07,442.63 L353.47,442.73 L355.87,442.91 L358.27,443.06 L360.66,442.93 L363.06,443.16 L365.46,443.06 L367.86,443.21 L370.26,443.27 L372.66,443.32 L375.06,443.23 L377.46,443.30 L379.85,443.41 L382.25,443.23 L384.65,443.43 L387.05,443.50 L389.45,443.58 L391.85,443.48 L394.25,443.48 L396.65,443.54 L399.04,443.45 L401.44,443.53 L403.84,443.62 L406.24,443.62 L408.64,443.48 L411.04,443.58 L413.44,443.37 L415.84,443.74 L418.23,443.59 L420.63,443.69 L423.03,443.54 L425.43,443.67 L427.83,443.74 L430.23,443.81 L432.63,443.54 L435.03,443.81 L437.42,443.69 L439.82,443.62 L442.22,443.78 L444.62,443.69 L447.02,443.70 L449.42,443.65 L451.82,443.77 L454.22,443.75 L456.61,443.73 L459.01,443.64 L461.41,443.69 L463.81,443.81 L466.21,443.91 L468.61,443.76 L471.01,443.93 L473.41,443.77 L475.80,443.64 L478.20,443.85 L480.60,443.66 L483.00,443.82 M293.50,440.71 L295.90,440.99 L298.30,441.43 L300.70,442.13 L303.09,442.22 L305.49,442.57 L307.89,442.95 L310.29,443.14 L312.69,443.42 L315.09,443.74 L317.49,443.65 L319.89,444.33 L322.28,444.25 L324.68,444.45 L327.08,444.83 L329.48,444.94 L331.88,444.96 L334.28,445.28 L336.68,445.27 L339.08,445.45 L341.47,445.48 L343.87,445.68 L346.27,445.94 L348.67,446.01 L351.07,446.13 L353.47,446.29 L355.87,446.26 L358.27,446.27 L360.66,446.38 L363.06,446.68 L365.46,446.56 L367.86,446.65 L370.26,446.66 L372.66,446.75 L375.06,446.82 L377.46,446.82 L379.85,446.84 L382.25,446.81 L384.65,446.84 L387.05,447.03 L389.45,447.10 L391.85,447.15 L394.25,447.08 L396.65,447.00 L399.04,447.20 L401.44,447.22 L403.84,446.99 L406.24,447.29 L408.64,447.28 L411.04,447.43 L413.44,447.11 L415.84,447.11 L418.23,447.37 L420.63,447.08 L423.03,447.22 L425.43,447.19 L427.83,447.21 L430.23,447.11 L432.63,447.32 L435.03,447.48 L437.42,447.42 L439.82,447.43 L442.22,447.34 L444.62,447.57 L447.02,447.46 L449.42,447.53 L451.82,447.23 L454.22,447.46 L456.61,447.29 L459.01,447.47 L461.41,447.46 L463.81,447.30 L466.21,447.46 L468.61,447.58 L471.01,447.51 L473.41,447.52 L475.80,447.35 L478.20,447.38 L480.60,447.33 L483.00,447.48 M293.50,442.88 L295.90,443.28 L298.30,443.68 L300.70,443.98 L303.09,444.57 L305.49,444.86 L307.89,445.02 L310.29,445.37 L312.69,445.85 L315.09,446.07 L317.49,446.65 L319.89,446.72 L322.28,446.83 L324.68,447.12 L327.08,447.58 L329.48,447.48 L331.88,447.87 L334.28,448.00 L336.68,448.29 L339.08,448.33 L341.47,448.37 L343.87,448.61 L346.27,448.69 L348.67,448.91 L351.07,448.90 L353.47,449.25 L355.87,449.10 L358.27,449.26 L360.66,449.21 L363.06,449.39 L365.46,449.45 L367.86,449.54 L370.26,449.69 L372.66,449.59 L375.06,449.61 L377.46,449.90 L379.85,449.78 L382.25,449.79 L384.65,450.05 L387.05,450.05 L389.45,449.68 L391.85,449.99 L394.25,450.16 L396.65,450.20 L399.04,450.07 L401.44,450.35 L403.84,450.09 L406.24,450.19 L408.64,450.25 L411.04,450.26 L413.44,450.38 L415.84,450.42 L418.23,450.32 L420.63,450.51 L423.03,450.27 L425.43,450.34 L427.83,450.59 L430.23,450.41 L432.63,450.54 L435.03,450.37 L437.42,450.40 L439.82,450.43 L442.22,450.48 L444.62,450.42 L447.02,450.47 L449.42,450.56 L451.82,450.63 L454.22,450.51 L456.61,450.58 L459.01,450.62 L461.41,450.39 L463.81,450.33 L466.21,450.72 L468.61,450.69 L471.01,450.54 L473.41,450.58 L475.80,450.43 L478.20,450.38 L480.60,450.59 L483.00,450.38 M293.50,445.00 L295.90,445.34 L298.30,445.95 L300.70,446.62 L303.09,447.05 L305.49,447.21 L307.89,447.75 L310.29,447.87 L312.69,448.26 L315.09,448.70 L317.49,449.12 L319.89,449.17 L322.28,449.57 L324.68,449.77 L327.08,449.85 L329.48,450.20 L331.88,450.61 L334.28,450.61 L336.68,450.87 L339.08,451.08 L341.47,451.06 L343.87,451.45 L346.27,451.62 L348.67,451.77 L351.07,451.86 L353.47,451.77 L355.87,451.87 L358.27,451.95 L360.66,452.04 L363.06,452.14 L365.46,452.44 L367.86,452.58 L370.26,452.41 L372.66,452.66 L375.06,452.48 L377.46,452.65 L379.85,452.63 L382.25,452.61 L384.65,452.87 L387.05,452.92 L389.45,452.91 L391.85,452.94 L394.25,452.93 L396.65,453.07 L399.04,453.05 L401.44,453.19 L403.84,453.05 L406.24,453.25 L408.64,453.31 L411.04,453.42 L413.44,453.43 L415.84,453.35 L418.23,453.27 L420.63,453.15 L423.03,453.39 L425.43,453.58 L427.83,453.62 L430.23,453.14 L432.63,453.37 L435.03,453.43 L437.42,453.36 L439.82,453.52 L442.22,453.52 L444.62,453.46 L447.02,453.53 L449.42,453.35 L451.82,453.44 L454.22,453.45 L456.61,453.68 L459.01,453.38 L461.41,453.56 L463.81,453.68 L466.21,453.59 L468.61,453.70 L471.01,453.53 L473.41,453.67 L475.80,453.73 L478.20,453.89 L480.60,453.72 L483.00,453.81 M293.50,447.05 L295.90,447.62 L298.30,448.33 L300.70,448.72 L303.09,449.29 L305.49,449.65 L307.89,450.24 L310.29,450.67 L312.69,450.66 L315.09,451.33 L317.49,451.49 L319.89,451.81 L322.28,452.03 L324.68,452.41 L327.08,452.45 L329.48,452.74 L331.88,452.97 L334.28,453.31 L336.68,453.59 L339.08,453.76 L341.47,453.90 L343.87,453.96 L346.27,453.98 L348.67,454.39 L351.07,454.50 L353.47,454.66 L355.87,454.92 L358.27,454.84 L360.66,454.95 L363.06,454.81 L365.46,455.25 L367.86,455.27 L370.26,455.28 L372.66,455.50 L375.06,455.40 L377.46,455.54 L379.85,455.91 L382.25,455.83 L384.65,455.91 L387.05,455.95 L389.45,455.99 L391.85,455.99 L394.25,456.29 L396.65,456.05 L399.04,456.19 L401.44,456.12 L403.84,456.14 L406.24,455.92 L408.64,456.02 L411.04,456.47 L413.44,456.49 L415.84,456.29 L418.23,456.36 L420.63,456.47 L423.03,456.30 L425.43,456.65 L427.83,456.34 L430.23,456.39 L432.63,456.17 L435.03,456.70 L437.42,456.54 L439.82,456.74 L442.22,456.44 L444.62,456.62 L447.02,456.60 L449.42,456.63 L451.82,456.86 L454.22,456.90 L456.61,456.80 L459.01,456.60 L461.41,456.76 L463.81,456.82 L466.21,456.74 L468.61,456.75 L471.01,456.74 L473.41,456.58 L475.80,456.73 L478.20,456.90 L480.60,456.59 L483.00,456.72 M293.50,449.30 L295.90,449.64 L298.30,450.35 L300.70,450.70 L303.09,451.34 L305.49,451.72 L307.89,452.23 L310.29,452.71 L312.69,453.13 L315.09,453.52 L317.49,453.62 L319.89,454.43 L322.28,454.53 L324.68,454.73 L327.08,455.07 L329.48,455.45 L331.88,455.54 L334.28,455.85 L336.68,456.07 L339.08,456.41 L341.47,456.45 L343.87,456.78 L346.27,456.95 L348.67,457.06 L351.07,457.39 L353.47,457.39 L355.87,457.39 L358.27,457.70 L360.66,457.80 L363.06,457.90 L365.46,458.05 L367.86,458.41 L370.26,458.25 L372.66,458.37 L375.06,458.38 L377.46,458.65 L379.85,458.56 L382.25,458.55 L384.65,458.57 L387.05,458.85 L389.45,458.94 L391.85,458.71 L394.25,458.87 L396.65,459.09 L399.04,459.19 L401.44,458.95 L403.84,459.11 L406.24,459.30 L408.64,459.17 L411.04,459.22 L413.44,459.24 L415.84,459.19 L418.23,459.38 L420.63,459.44 L423.03,459.26 L425.43,459.47 L427.83,459.62 L430.23,459.53 L432.63,459.64 L435.03,459.48 L437.42,459.73 L439.82,459.49 L442.22,459.83 L444.62,459.57 L447.02,459.55 L449.42,459.55 L451.82,459.62 L454.22,459.62 L456.61,459.61 L459.01,459.66 L461.41,459.79 L463.81,459.83 L466.21,459.69 L468.61,459.89 L471.01,459.63 L473.41,459.64 L475.80,459.63 L478.20,459.85 L480.60,459.60 L483.00,459.62 M293.50,451.50 L295.90,452.19 L298.30,452.75 L300.70,452.98 L303.09,453.69 L305.49,454.30 L307.89,454.69 L310.29,454.94 L312.69,455.52 L315.09,455.77 L317.49,456.21 L319.89,456.98 L322.28,457.14 L324.68,457.21 L327.08,457.51 L329.48,458.04 L331.88,458.18 L334.28,458.58 L336.68,458.68 L339.08,458.97 L341.47,459.24 L343.87,459.29 L346.27,459.38 L348.67,459.65 L351.07,459.89 L353.47,460.11 L355.87,460.29 L358.27,460.43 L360.66,460.64 L363.06,460.61 L365.46,461.01 L367.86,461.20 L370.26,461.11 L372.66,461.20 L375.06,461.42 L377.46,461.45 L379.85,461.48 L382.25,461.52 L384.65,461.53 L387.05,461.56 L389.45,461.85 L391.85,461.98 L394.25,461.77 L396.65,461.95 L399.04,462.04 L401.44,462.02 L403.84,462.03 L406.24,462.12 L408.64,461.98 L411.04,462.25 L413.44,462.26 L415.84,462.59 L418.23,462.48 L420.63,462.36 L423.03,462.44 L425.43,462.67 L427.83,462.69 L430.23,462.55 L432.63,462.53 L435.03,462.40 L437.42,462.56 L439.82,462.60 L442.22,462.55 L444.62,462.87 L447.02,462.45 L449.42,462.68 L451.82,462.76 L454.22,462.78 L456.61,462.94 L459.01,462.59 L461.41,462.68 L463.81,462.79 L466.21,462.81 L468.61,462.76 L471.01,462.72 L473.41,462.95 L475.80,462.71 L478.20,462.77 L480.60,463.02 L483.00,463.07 M293.50,453.60 L295.90,454.03 L298.30,454.64 L300.70,455.20 L303.09,455.71 L305.49,456.31 L307.89,457.00 L310.29,457.33 L312.69,457.65 L315.09,458.06 L317.49,458.40 L319.89,459.05 L322.28,459.02 L324.68,459.62 L327.08,459.73 L329.48,460.07 L331.88,460.30 L334.28,460.86 L336.68,460.99 L339.08,461.57 L341.47,461.34 L343.87,461.55 L346.27,461.95 L348.67,462.14 L351.07,462.22 L353.47,462.18 L355.87,462.76 L358.27,462.81 L360.66,462.94 L363.06,462.96 L365.46,463.23 L367.86,463.21 L370.26,463.40 L372.66,463.49 L375.06,463.77 L377.46,463.66 L379.85,463.77 L382.25,464.03 L384.65,464.01 L387.05,464.06 L389.45,464.11 L391.85,464.32 L394.25,464.20 L396.65,464.40 L399.04,464.65 L401.44,464.51 L403.84,464.42 L406.24,464.42 L408.64,464.63 L411.04,464.52 L413.44,464.52 L415.84,464.66 L418.23,464.66 L420.63,464.93 L423.03,464.69 L425.43,465.08 L427.83,464.84 L430.23,464.97 L432.63,465.06 L435.03,465.04 L437.42,465.12 L439.82,464.94 L442.22,464.81 L444.62,465.08 L447.02,464.92 L449.42,465.07 L451.82,465.28 L454.22,465.16 L456.61,465.13 L459.01,465.08 L461.41,465.19 L463.81,465.22 L466.21,465.06 L468.61,465.30 L471.01,465.15 L473.41,465.32 L475.80,465.25 L478.20,465.43 L480.60,465.42 L483.00,465.33" fill="none" stroke="#1a1a1a" stroke-width="1.6"/>
<path d="M91,428.3 H99.4 V572 L102.00,573.60 L103.39,573.21 L105.38,572.66 L107.67,572.01 L110.00,571.30 L112.36,570.58 L114.88,569.81 L117.45,568.94 L120.00,567.90 L122.50,566.66 L125.00,565.27 L127.50,563.76 L130.00,562.20 L132.62,560.51 L135.31,558.69 L137.85,556.91 L140.00,555.30 L141.60,553.96 L142.81,552.79 L143.87,551.68 L145.00,550.50 L146.19,549.31 L147.34,548.13 L148.57,546.84 L150.00,545.30 L151.70,543.42 L153.59,541.30 L155.57,539.05 L157.50,536.80 L159.38,534.54 L161.25,532.22 L163.12,529.89 L165.00,527.60 L166.88,525.36 L168.75,523.16 L170.62,520.97 L172.50,518.80 L174.43,516.61 L176.41,514.42 L178.30,512.30 L180.00,510.30 L181.43,508.45 L182.66,506.72 L183.81,505.08 L185.00,503.50 L186.25,501.98 L187.50,500.54 L188.75,499.17 L190.00,497.90 L191.25,496.73 L192.50,495.66 L193.75,494.66 L195.00,493.70 L196.25,492.77 L197.50,491.89 L198.75,491.07 L200.00,490.30 L201.25,489.60 L202.50,488.96 L203.75,488.36 L205.00,487.80 L206.25,487.28 L207.50,486.81 L208.75,486.36 L210.00,485.90 L211.25,485.42 L212.50,484.93 L213.75,484.45 L215.00,484.00 L216.13,483.59 L217.19,483.21 L218.40,482.82 L220.00,482.40 L222.15,481.91 L224.69,481.39 L227.38,480.87 L230.00,480.40 L232.50,480.00 L235.00,479.64 L237.50,479.31 L240.00,479.00 L242.50,478.70 L245.00,478.42 L247.50,478.15 L250.00,477.90 L252.50,477.65 L255.00,477.42 L257.50,477.20 L260.00,477.00 L262.50,476.82 L265.00,476.67 L267.50,476.53 L270.00,476.40 L272.46,476.28 L274.89,476.17 L277.37,476.08 L280.00,476.00 L283.10,475.93 L286.52,475.88 L289.64,475.83 L291.80,475.80 L292.2,475.8 V402 L293.50,400.44 L295.90,398.40 L298.30,396.75 L300.70,395.18 L303.09,393.77 L305.49,392.70 L307.89,391.97 L310.29,390.70 L312.69,390.35 L315.09,389.56 L317.49,389.40 L319.89,388.70 L322.28,388.39 L324.68,387.92 L327.08,387.80 L329.48,387.67 L331.88,387.59 L334.28,386.96 L336.68,386.91 L339.08,387.42 L341.47,386.84 L343.87,386.57 L346.27,386.54 L348.67,385.97 L351.07,386.52 L353.47,386.22 L355.87,385.90 L358.27,386.23 L360.66,385.89 L363.06,385.77 L365.46,385.95 L367.86,385.88 L370.26,385.71 L372.66,385.72 L375.06,385.49 L377.46,385.44 L379.85,385.75 L382.25,385.78 L384.65,385.62 L387.05,385.58 L389.45,385.44 L391.85,385.45 L394.25,385.30 L396.65,385.68 L399.04,385.31 L401.44,385.44 L403.84,385.36 L406.24,385.13 L408.64,385.61 L411.04,385.25 L413.44,385.17 L415.84,385.29 L418.23,385.12 L420.63,385.25 L423.03,385.09 L425.43,385.30 L427.83,385.22 L430.23,384.99 L432.63,385.34 L435.03,385.21 L437.42,385.00 L439.82,385.21 L442.22,385.22 L444.62,385.42 L447.02,385.01 L449.42,385.26 L451.82,385.11 L454.22,385.21 L456.61,385.07 L459.01,385.10 L461.41,385.17 L463.81,384.92 L466.21,384.77 L468.61,385.08 L471.01,385.01 L473.41,385.09 L475.80,385.17 L478.20,385.04 L480.60,385.25 L483.00,385.06" fill="none" stroke="#e41d22" stroke-width="2.8" stroke-linejoin="round"/>
<path d="M286.1,563.4 V550.4 H363.3" fill="none" stroke="#000" stroke-width="1.9"/>
<text x="4.5" y="658.7" font-size="23" font-style="italic" fill="#111">V</text>
<text x="18.2" y="666.5" font-size="21.5" font-style="italic" fill="#111">m</text>
<text x="49.2" y="649.6" font-size="16.8" fill="#333">0 mV</text>
<text x="49.8" y="676.6" font-size="16.8" fill="#333">-100</text>
<path d="M92.3,643.4 H99 V670 H292.4 V630.3 M292.4,630.3 H482.8 M292.4,634.2 H482.8 M292.4,637.5 H482.8 M292.4,640.7 H482.8 M292.4,644.8 H482.8 M292.4,648.8 H482.8 M292.4,652.6 H482.8 M292.4,656.4 H482.8" fill="none" stroke="#333" stroke-width="1.3"/>
<text x="528" y="357.8" font-size="25" fill="#000">D</text>
<path d="M568,372.5 H580.5 M776,372.6 H788" stroke="#6b94c8" stroke-width="1.2"/>
<path d="M584.8,365 L585.50,365.83 L586.44,366.84 L587.38,367.43 L588.33,367.78 L589.27,368.30 L590.21,368.42 L591.15,368.79 L592.10,369.27 L593.04,369.71 L593.98,369.53 L594.92,370.07 L595.86,370.54 L596.81,370.72 L597.75,370.18 L598.69,370.58 L599.63,370.52 L600.58,370.64 L601.52,370.71 L602.46,370.67 L603.40,370.80 L604.34,370.65 L605.29,370.56 L606.23,370.74 L607.17,370.85 L608.11,371.10 L609.06,370.87 L610.00,371.01 L610.94,371.24 L611.88,370.55 L612.82,370.78 L613.77,371.04 L614.71,370.91 L615.65,370.61 L616.59,371.24 L617.54,370.94 L618.48,370.68 L619.42,371.57 L620.36,370.63 L621.30,371.02 L622.25,370.83 L623.19,371.08 L624.13,371.22 L625.07,370.82 L626.02,371.04 L626.96,371.04 L627.90,370.79 L628.84,371.45 L629.78,371.16 L630.73,371.03 L631.67,370.93 L632.61,371.04 L633.55,371.19 L634.49,371.02 L635.44,371.54 L636.38,370.41 L637.32,370.54 L638.26,371.12 L639.21,370.65 L640.15,371.19 L641.09,371.03 L642.03,371.41 L642.97,371.37 L643.92,371.65 L644.86,371.54 L645.80,371.65 L646.74,371.44 L647.69,371.61 L648.63,371.45 L649.57,371.13 L650.51,370.94 L651.45,370.96 L652.40,371.48 L653.34,370.63 L654.28,371.41 L655.22,371.14 L656.17,371.60 L657.11,371.44 L658.05,371.17 L658.99,371.41 L659.93,370.73 L660.88,371.53 L661.82,371.63 L662.76,370.97 L663.70,371.82 L664.65,371.56 L665.59,371.69 L666.53,371.25 L667.47,371.89 L668.41,371.93 L669.36,371.78 L670.30,371.53 L671.24,372.09 L672.18,372.28 L673.13,372.06 L674.07,372.28 L675.01,371.84 L675.95,372.10 L676.89,372.21 L677.84,372.18 L678.78,373.02 L679.72,372.33 L680.66,372.08 L681.61,372.53 L682.55,372.00 L683.49,372.47 L684.43,372.63 L685.37,372.29 L686.32,372.38 L687.26,372.23 L688.20,372.59 L689.14,372.39 L690.09,373.15 L691.03,372.86 L691.97,372.64 L692.91,372.32 L693.85,373.39 L694.80,373.21 L695.74,373.00 L696.68,372.96 L697.62,372.99 L698.57,372.83 L699.51,373.58 L700.45,373.08 L701.39,372.55 L702.33,372.75 L703.28,372.14 L704.22,373.08 L705.16,373.08 L706.10,373.35 L707.05,373.41 L707.99,372.52 L708.93,372.85 L709.87,372.98 L710.81,372.89 L711.76,372.47 L712.70,372.83 L713.64,372.70 L714.58,372.93 L715.53,372.48 L716.47,372.38 L717.41,372.27 L718.35,372.27 L719.29,372.12 L720.24,372.22 L721.18,372.44 L722.12,372.39 L723.06,372.62 L724.01,372.51 L724.95,372.34 L725.89,371.77 L726.83,372.26 L727.77,372.40 L728.72,371.63 L729.66,371.65 L730.60,371.67 L731.54,371.61 L732.48,371.80 L733.43,371.57 L734.37,371.93 L735.31,371.42 L736.25,371.71 L737.20,371.57 L738.14,371.39 L739.08,371.96 L740.02,371.63 L740.96,371.80 L741.91,371.55 L742.85,371.88 L743.79,371.87 L744.73,371.66 L745.68,371.19 L746.62,371.98 L747.56,371.96 L748.50,371.83 L749.44,371.86 L750.39,371.84 L751.33,371.88 L752.27,371.54 L753.21,371.84 L754.16,371.97 L755.10,371.71 L756.04,371.62 L756.98,372.48 L757.92,372.13 L758.87,371.87 L759.81,371.83 L760.75,371.20 L761.69,371.58 L762.64,371.95 L763.58,372.43 L764.52,371.45 L765.46,371.87 L766.40,372.67 L767.35,372.32 L768.29,372.26 L769.23,372.51 L770.17,372.13 L771.12,372.13 L772.06,372.42 L773.00,372.47" fill="none" stroke="#111" stroke-width="1.5"/>
<path d="M585.50,393.40 L586.44,394.15 L587.38,394.91 L588.33,394.39 L589.27,395.27 L590.21,393.97 L591.15,394.12 L592.10,393.43 L593.04,393.45 L593.98,393.16 L594.92,393.08 L595.86,393.23 L596.81,393.40 L597.75,392.97 L598.69,393.01 L599.63,392.24 L600.58,392.68 L601.52,392.28 L602.46,392.39 L603.40,391.72 L604.34,391.64 L605.29,391.99 L606.23,391.63 L607.17,391.35 L608.11,390.98 L609.06,391.02 L610.00,391.06 L610.94,391.00 L611.88,390.49 L612.82,390.42 L613.77,390.52 L614.71,389.92 L615.65,390.40 L616.59,389.99 L617.54,389.81 L618.48,389.00 L619.42,389.11 L620.36,389.15 L621.30,389.17 L622.25,388.90 L623.19,389.23 L624.13,389.05 L625.07,388.81 L626.02,388.17 L626.96,389.08 L627.90,388.47 L628.84,388.62 L629.78,388.12 L630.73,388.21 L631.67,388.31 L632.61,388.06 L633.55,388.16 L634.49,387.71 L635.44,388.24 L636.38,386.97 L637.32,387.25 L638.26,387.60 L639.21,387.12 L640.15,386.95 L641.09,386.46 L642.03,387.26 L642.97,386.25 L643.92,386.88 L644.86,386.69 L645.80,386.81 L646.74,386.89 L647.69,386.16 L648.63,386.03 L649.57,386.09 L650.51,385.58 L651.45,386.25 L652.40,385.80 L653.34,385.87 L654.28,385.40 L655.22,385.65 L656.17,385.37 L657.11,385.44 L658.05,385.05 L658.99,385.59 L659.93,385.00 L660.88,384.34 L661.82,385.21 L662.76,384.84 L663.70,384.57 L664.65,385.50 L665.59,384.64 L666.53,384.17 L667.47,384.29 L668.41,384.50 L669.36,384.23 L670.30,384.58 L671.24,384.44 L672.18,383.79 L673.13,383.95 L674.07,384.04 L675.01,383.64 L675.95,383.53 L676.89,383.85 L677.84,383.63 L678.78,382.98 L679.72,383.15 L680.66,383.10 L681.61,383.10 L682.55,382.83 L683.49,383.36 L684.43,382.58 L685.37,382.45 L686.32,382.75 L687.26,381.92 L688.20,382.20 L689.14,382.61 L690.09,381.93 L691.03,381.99 L691.97,382.48 L692.91,382.20 L693.85,381.99 L694.80,381.96 L695.74,381.59 L696.68,381.80 L697.62,381.55 L698.57,382.28 L699.51,381.60 L700.45,381.25 L701.39,381.24 L702.33,381.18 L703.28,380.66 L704.22,380.73 L705.16,381.34 L706.10,380.37 L707.05,380.53 L707.99,380.91 L708.93,380.97 L709.87,380.12 L710.81,380.77 L711.76,380.13 L712.70,380.64 L713.64,380.20 L714.58,379.88 L715.53,380.09 L716.47,379.94 L717.41,379.45 L718.35,380.24 L719.29,379.39 L720.24,379.75 L721.18,379.17 L722.12,378.67 L723.06,378.79 L724.01,379.01 L724.95,379.15 L725.89,379.38 L726.83,378.78 L727.77,378.58 L728.72,378.20 L729.66,378.47 L730.60,378.48 L731.54,377.63 L732.48,378.59 L733.43,378.45 L734.37,378.70 L735.31,377.65 L736.25,377.84 L737.20,377.74 L738.14,377.25 L739.08,377.30 L740.02,377.16 L740.96,377.52 L741.91,377.40 L742.85,377.59 L743.79,376.97 L744.73,376.58 L745.68,377.03 L746.62,376.92 L747.56,376.92 L748.50,377.00 L749.44,376.36 L750.39,376.68 L751.33,376.04 L752.27,376.30 L753.21,376.37 L754.16,376.03 L755.10,376.04 L756.04,375.46 L756.98,375.59 L757.92,375.74 L758.87,375.24 L759.81,375.26 L760.75,376.17 L761.69,375.44 L762.64,375.04 L763.58,374.91 L764.52,375.56 L765.46,374.23 L766.40,374.89 L767.35,374.93 L768.29,374.32 L769.23,374.40 L770.17,373.69 L771.12,373.75 L772.06,373.52 L773.00,373.27" fill="none" stroke="#111" stroke-width="1.8"/>
<path d="M588.00,395.40 L592.08,394.72 L596.16,394.04 L600.24,393.37 L604.33,392.79 L608.41,392.22 L612.49,391.65 L616.57,391.08 L620.65,390.52 L624.73,390.03 L628.82,389.54 L632.90,389.05 L636.98,388.56 L641.06,388.10 L645.14,387.71 L649.22,387.32 L653.31,386.94 L657.39,386.55 L661.47,386.16 L665.55,385.77 L669.63,385.38 L673.71,385.00 L677.80,384.61 L681.88,384.22 L685.96,383.83 L690.04,383.45 L694.12,383.06 L698.20,382.67 L702.29,382.28 L706.37,381.87 L710.45,381.47 L714.53,381.07 L718.61,380.67 L722.69,380.27 L726.78,379.87 L730.86,379.47 L734.94,379.06 L739.02,378.66 L743.10,378.26 L747.18,377.86 L751.27,377.46 L755.35,377.06 L759.43,376.66 L763.51,376.33 L767.59,376.02 L771.67,375.70 L775.76,375.47 L779.84,375.28 L783.92,375.09 L788.00,374.90" fill="none" stroke="#e41d22" stroke-width="2"/>
<path d="M584.7,365 V396" fill="none" stroke="#000" stroke-width="1.5"/>
<path d="M584.6,394 V508.2 H567.6" fill="none" stroke="#000" stroke-width="2.2"/>
<path d="M581.2,433 H584" stroke="#000" stroke-width="1"/>
<path d="M712,477.5 V466.3 H750" fill="none" stroke="#222" stroke-width="1.2"/>
<text x="515.3" y="555" font-size="25" fill="#000">E</text>
<path d="M576.8,547.2 V676.4 H775.5 M572,561.3 H576.8 M572,618.5 H576.8 M572,676.4 H576.8 M584.9,676.4 V682 M630.3,676.4 V682 M675.6,676.4 V682 M720.7,676.4 V682 M766,676.4 V682" fill="none" stroke="#222" stroke-width="1.2"/>
<g fill="#000"><circle cx="584.9" cy="637.1" r="4.2"/><circle cx="592.7" cy="629.5" r="4.2"/><circle cx="600" cy="618.1" r="4.2"/><circle cx="607.2" cy="612.9" r="4.2"/><circle cx="614.4" cy="598.5" r="4.2"/><circle cx="621.7" cy="590" r="4.2"/><circle cx="628.9" cy="582.8" r="4.2"/><circle cx="636.1" cy="573.1" r="4.2"/><circle cx="642.9" cy="565.2" r="4.2"/><circle cx="650.2" cy="572.4" r="4.2"/><circle cx="657.8" cy="569.3" r="4.2"/><circle cx="693.6" cy="556.1" r="4.2"/><circle cx="701.1" cy="560.7" r="4.2"/><circle cx="708.3" cy="597.5" r="4.2"/><circle cx="715.6" cy="608.2" r="4.2"/><circle cx="722.6" cy="614.9" r="4.2"/><circle cx="729.8" cy="622.1" r="4.2"/><circle cx="737.1" cy="637.8" r="4.2"/><circle cx="744.5" cy="640.1" r="4.2"/><circle cx="751.5" cy="657.4" r="4.2"/><circle cx="758.8" cy="653.9" r="4.2"/><circle cx="766" cy="662" r="4.2"/></g>
<g font-size="16.3" fill="#333" text-anchor="end"><text x="564.6" y="567.6">120</text><text x="564.6" y="623.9">80</text><text x="564.6" y="681.6">40</text></g>
<g font-size="16.5" fill="#333" text-anchor="middle"><text x="585.3" y="703.6">-50</text><text x="766.6" y="703.6">50</text></g>
<text x="638.5" y="714.7" font-size="19.5" font-style="italic" fill="#222">V</text>
<text x="649" y="719.5" font-size="17.5" font-style="italic" fill="#222">m</text>
<text x="673" y="714.7" font-size="19.3" fill="#222">(mV)</text>
<text transform="translate(533.6,640) rotate(-90)" font-size="18.5" letter-spacing="0.9" fill="#222"><tspan font-family="Liberation Serif" font-size="16">τ</tspan><tspan x="19.5">(ms)</tspan></text>
</svg>
</body></html>
